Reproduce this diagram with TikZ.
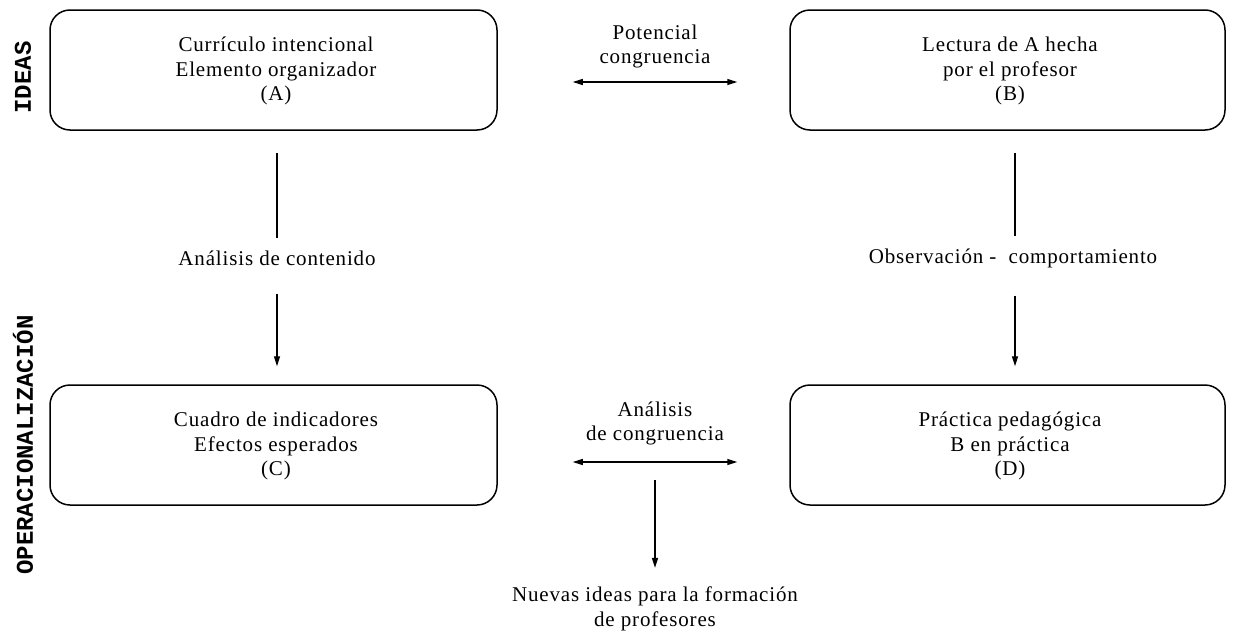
\documentclass[tikz,border=0pt]{standalone}
\usepackage{fontspec}
\setmainfont{Liberation Serif}[LetterSpace=4]
\newfontfamily\labfont{Liberation Mono}
\usetikzlibrary{arrows.meta}
\begin{document}
\begin{tikzpicture}[x=1pt,y=-1pt,
 box/.style={draw, line width=1.5pt, rounded corners=20pt, minimum height=120pt, inner sep=0pt},
 txt/.style={font=\fontsize{21}{24.5}\selectfont, align=center, inner sep=0pt},
 side/.style={font=\labfont\bfseries\fontsize{24}{24}\selectfont, rotate=90, inner sep=0pt},
 conn/.style={line width=1.4pt},
 arr/.style={line width=1.4pt, -{Triangle[length=10pt,width=6pt]}},
 darr/.style={line width=1.4pt, {Triangle[length=10pt,width=6pt]}-{Triangle[length=10pt,width=6pt]}},
 ]
\useasboundingbox (0,0) rectangle (1237,632);
% boxes
\node[box, minimum width=447pt] (A) at (273.5,70) {};
\node[box, minimum width=435pt] (B) at (1007.5,70) {};
\node[box, minimum width=447pt] (C) at (273.5,445) {};
\node[box, minimum width=435pt] (D) at (1007.5,445) {};
% box texts
\node[txt] (At) at (276,71) {Currículo intencional\\Elemento organizador\\(A)};
\node[txt] (Bt) at (1010,71) {Lectura de A hecha\\por el profesor\\(B)};
\node[txt] (Ct) at (276,446) {Cuadro de indicadores\\Efectos esperados\\(C)};
\node[txt] (Dt) at (1010,446) {Práctica pedagógica\\B en práctica\\(D)};
% side labels
\node[side] (ideas) at (23,77.5) {IDEAS};
\node[side] (oper) at (23,445) {OPERACIONALIZACIÓN};
% labels
\node[txt] (pc) at (655,46.5) {Potencial\\congruencia};
\node[txt] (ac) at (655,423.5) {Análisis\\de congruencia};
\node[txt] (lblL) at (277,258) {Análisis de contenido};
\node[txt] (lblR) at (1013,258) {Observación -\ \ comportamiento};
\node[txt] (nu) at (655,609) {Nuevas ideas para la formación\\de profesores};
% connectors
\draw[darr, shorten <=75pt, shorten >=52pt] (A.east |- 0,82) -- (B.west |- 0,82);
\draw[darr, shorten <=75pt, shorten >=52pt] (C.east |- 0,462) -- (D.west |- 0,462);
\draw[conn, shorten <=22pt, shorten >=12pt] (A.south -| lblL) -- (lblL.north);
\draw[arr, shorten <=28pt, shorten >=18pt] (lblL.south) -- (C.north -| lblL);
\draw[conn, shorten <=22pt, shorten >=12pt] (B.south -| 1015,0) -- (lblR.north -| 1015,0);
\draw[arr, shorten <=28pt, shorten >=18pt] (lblR.south -| 1015,0) -- (D.north -| 1015,0);
\coordinate (split) at (655,480);
\draw[arr, shorten >=19pt] (split) -- (nu.north);
\end{tikzpicture}
\end{document}
